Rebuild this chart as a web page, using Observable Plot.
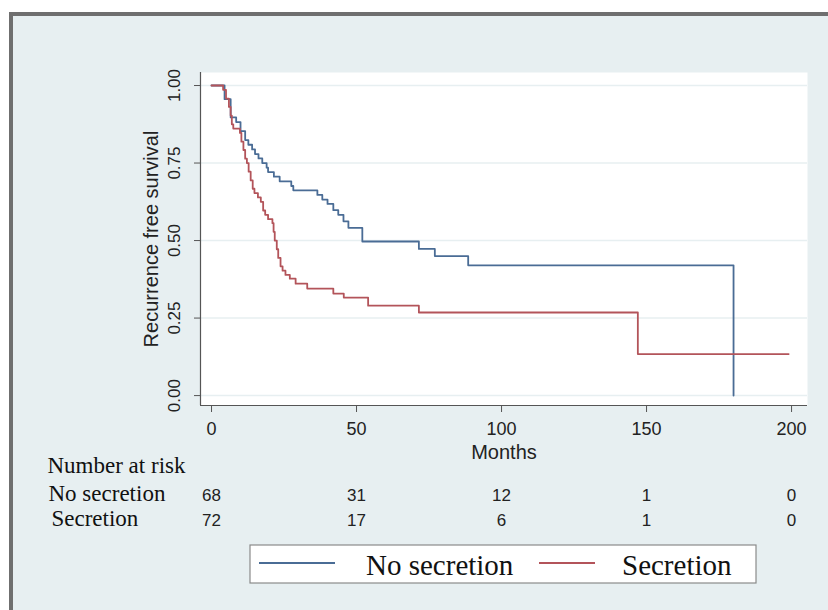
<!DOCTYPE html>
<html>
<head>
<meta charset="utf-8">
<script src="https://cdn.jsdelivr.net/npm/d3@7"></script>
<script src="https://cdn.jsdelivr.net/npm/@observablehq/plot@0.6"></script>
<style>
  html, body { margin: 0; padding: 0; background: #ffffff; }
  #page { position: relative; width: 828px; height: 610px; overflow: hidden; background: #ffffff; }
  #bgframe { position: absolute; left: 9px; top: 12px; width: 840px; height: 620px;
             border-left: 4px solid #6f6f6f; border-top: 4px solid #6f6f6f; background: #e7eff1; }
  #chart { position: absolute; left: 0; top: 0; }
  #legend { position: absolute; left: 0; top: 0; }
</style>
</head>
<body>
<div id="page">
  <div id="bgframe"></div>
  <div id="chart"></div>
  <svg id="legend" width="828" height="610"></svg>
</div>
<script>
// ---- data ----
const groups = ["No secretion", "Secretion"];
const colors = ["#4a6c95", "#b3545a"];

const noSecTime = [0, 4.5, 6.6, 8.5, 10, 11.6, 12.7, 14, 15, 16.2, 17.5, 19, 19.5, 21.5, 23.5, 27.5, 28.2, 36.5, 38.2, 40, 42, 43.7, 45.5, 47.2, 52, 71.5, 77, 88.5, 180];
const noSecSurv = [1, 0.956, 0.897, 0.882, 0.853, 0.824, 0.809, 0.794, 0.779, 0.765, 0.750, 0.735, 0.721, 0.706, 0.691, 0.676, 0.662, 0.647, 0.632, 0.618, 0.598, 0.583, 0.562, 0.541, 0.497, 0.473, 0.450, 0.420, 0];

const secTime = [0, 4, 5, 6, 6.6, 7, 7.5, 9.8, 10.3, 11, 11.6, 12.2, 12.8, 13.5, 14.2, 14.8, 16, 17, 17.8, 18.5, 19.5, 21, 21.4, 21.8, 22.5, 23, 23.8, 24.5, 25.5, 27, 29, 33, 42, 45.6, 54, 71.5, 147, 199];
const secSurv = [1, 0.986, 0.958, 0.931, 0.903, 0.875, 0.861, 0.847, 0.819, 0.792, 0.764, 0.750, 0.722, 0.694, 0.667, 0.653, 0.639, 0.625, 0.597, 0.583, 0.569, 0.556, 0.528, 0.500, 0.472, 0.444, 0.417, 0.403, 0.389, 0.377, 0.361, 0.345, 0.329, 0.316, 0.290, 0.268, 0.134, 0.134];

const xTicks = [0, 50, 100, 150, 200];
const yTicks = [0, 0.25, 0.5, 0.75, 1];
const riskNoSec = [68, 31, 12, 1, 0];
const riskSec = [72, 17, 6, 1, 0];

// ---- build tables ----
const noSec = noSecTime.map((t, i) => ({t, s: noSecSurv[i]}));
const sec = secTime.map((t, i) => ({t, s: secSurv[i]}));
const riskRow0 = riskNoSec.map((n, i) => ({t: xTicks[i], n}));
const riskRow1 = riskSec.map((n, i) => ({t: xTicks[i], n}));

const xDomain = [-3.8, 205.5];
const yDomain = [-0.032, 1.042];
const sans = "'Liberation Sans', Arial, Helvetica, sans-serif";
const serif = "'Liberation Serif', 'Times New Roman', serif";
const fmt = d3.format(".2f");

const chart = Plot.plot({
  width: 828,
  height: 610,
  marginLeft: 200,
  marginRight: 21,
  marginTop: 72,
  marginBottom: 205,
  x: {domain: xDomain},
  y: {domain: yDomain},
  style: {background: "transparent", fontFamily: sans, color: "#222"},
  marks: [
    Plot.frame({fill: "white", stroke: null}),
    Plot.ruleY(yTicks, {stroke: "#e7eff1", strokeWidth: 1.5}),
    Plot.line(noSec, {x: "t", y: "s", curve: "step-after", stroke: colors[0], strokeWidth: 1.8}),
    Plot.line(sec, {x: "t", y: "s", curve: "step-after", stroke: colors[1], strokeWidth: 1.8}),
    Plot.ruleX([xDomain[0]], {stroke: "#555", strokeWidth: 1.2}),
    Plot.ruleY([yDomain[0]], {stroke: "#555", strokeWidth: 1.2}),
    Plot.axisX({ticks: xTicks, tickSize: 7, tickPadding: 10, fontSize: 18, label: null, stroke: "#555"}),
    Plot.axisY({ticks: yTicks, tickSize: 6, tickFormat: () => "", label: null, stroke: "#555"}),
    Plot.text(yTicks, {y: d => d, text: d => fmt(d), frameAnchor: "left", textAnchor: "middle", rotate: -90, dx: -26, fontSize: 17, fill: "#222"}),
    Plot.text(["Recurrence free survival"], {frameAnchor: "left", textAnchor: "middle", rotate: -90, dx: -49, fontSize: 20, fill: "#222"}),
    Plot.text(["Months"], {frameAnchor: "bottom", dy: 53, fontSize: 20, fill: "#222"}),
    Plot.text(riskRow0, {x: "t", text: "n", frameAnchor: "bottom", dy: 95, fontSize: 17, fill: "#222"}),
    Plot.text(riskRow1, {x: "t", text: "n", frameAnchor: "bottom", dy: 120, fontSize: 17, fill: "#222"}),
    Plot.text(["Number at risk"], {frameAnchor: "bottom-left", dx: -153, dy: 67, textAnchor: "start", fontFamily: serif, fontSize: 23, fill: "#111"}),
    Plot.text([groups[0]], {frameAnchor: "bottom-left", dx: -152, dy: 95, textAnchor: "start", fontFamily: serif, fontSize: 23, fill: "#111"}),
    Plot.text([groups[1]], {frameAnchor: "bottom-left", dx: -149, dy: 120, textAnchor: "start", fontFamily: serif, fontSize: 23, fill: "#111"})
  ]
});
document.getElementById("chart").appendChild(chart);

// ---- legend ----
const lg = d3.select("#legend");
lg.append("rect").attr("x", 250).attr("y", 545).attr("width", 506).attr("height", 38)
  .attr("fill", "white").attr("stroke", "#8a8a8a").attr("stroke-width", 1.2);
const items = [
  {x1: 259, x2: 335, tx: 366},
  {x1: 539, x2: 595, tx: 622}
];
groups.forEach((g, i) => {
  lg.append("line").attr("x1", items[i].x1).attr("x2", items[i].x2).attr("y1", 563).attr("y2", 563)
    .attr("stroke", colors[i]).attr("stroke-width", 1.8);
  lg.append("text").attr("x", items[i].tx).attr("y", 575).attr("font-family", serif)
    .attr("font-size", 29).attr("fill", "#111").text(g);
});
</script>
</body>
</html>
